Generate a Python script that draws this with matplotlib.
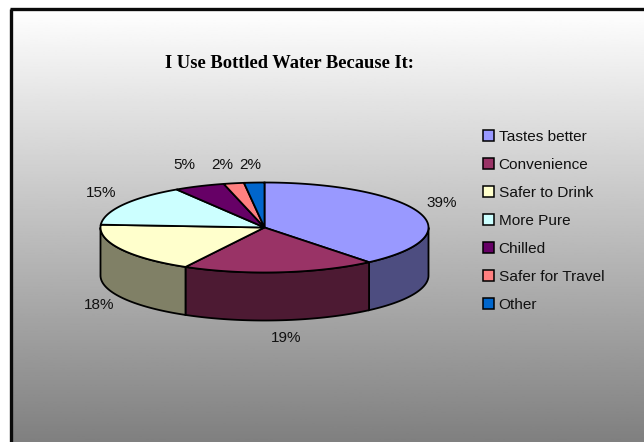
from matplotlib import pyplot as plt
from matplotlib.patches import Patch
import numpy as np

# 数据
categories = ["Tastes better", "Convenience", "Safer to Drink", "More Pure", "Chilled", "Safer for Travel", "Other"]
values = [39, 19, 18, 15, 5, 2, 2]
top_colors = ["#9999FF", "#993366", "#FFFFCC", "#CCFFFF", "#660066", "#FF8080", "#0066CC"]
side_colors = ["#4D4D80", "#4D1A33", "#808066", "#668080", "#330033", "#804040", "#003366"]
label_pos = [(442, 203), (286, 338), (99, 305), (101, 193), (184, 165), (222, 165), (250, 165)]

W, H = 644, 442
cx, cy, rx, ry, depth = 264.5, 227.5, 164, 45, 48

fig = plt.figure(figsize=(W / 100, H / 100), dpi=100, facecolor="white")
ax = fig.add_axes([0, 0, 1, 1])
ax.set_xlim(0, W)
ax.set_ylim(H, 0)
ax.axis("off")

# 背景渐变和黑色边框
grad = np.linspace(1.0, 0.5, 256).reshape(-1, 1)
ax.imshow(grad, cmap="gray", vmin=0, vmax=1, extent=[11, W, H, 9], aspect="auto", zorder=0)
ax.set_xlim(0, W)
ax.set_ylim(H, 0)
ax.plot([11, 11], [H, 9], color="#0a0a0a", lw=2.4, solid_capstyle="butt", zorder=1)
ax.plot([10, W], [9, 9], color="#0a0a0a", lw=2.4, solid_capstyle="butt", zorder=1)


def ell(t, dy=0):
    return cx + rx * np.sin(t), cy - ry * np.cos(t) + dy


edges = np.radians(np.cumsum([0] + values) * 3.6)

# 侧面，只画朝前的部分
for i in range(len(values)):
    a = max(edges[i], np.pi / 2)
    b = min(edges[i + 1], 3 * np.pi / 2)
    if a >= b:
        continue
    t = np.linspace(a, b, 80)
    x1, y1 = ell(t)
    x2, y2 = ell(t[::-1], depth)
    ax.fill(np.r_[x1, x2], np.r_[y1, y2], facecolor=side_colors[i], edgecolor="black", lw=1.3, zorder=2)

# 上面
for i in range(len(values)):
    t = np.linspace(edges[i], edges[i + 1], 80)
    x1, y1 = ell(t)
    ax.fill(np.r_[cx, x1], np.r_[cy, y1], facecolor=top_colors[i], edgecolor="black", lw=1.3, zorder=3)

# 百分比
for v, (px, py) in zip(values, label_pos):
    ax.text(px, py, "{}%".format(v), fontsize=11, family="Liberation Sans", ha="center", va="center", color="#111111", zorder=4)

ax.text(289, 63, "I Use Bottled Water Because It:", fontsize=13.3, family="Liberation Serif", weight="bold",
        ha="center", va="center", color="black", zorder=4)

# 图例
handles = [Patch(facecolor=c, edgecolor="black", lw=1.1) for c in top_colors]
ax.legend(handles, categories, loc="upper left", bbox_to_anchor=(483 / W, 1 - 129.5 / H), frameon=False,
          prop={"family": "Liberation Sans", "size": 11.1}, labelspacing=0.91, handlelength=0.72, handleheight=0.72,
          handletextpad=0.3, borderpad=0, borderaxespad=0, labelcolor="#111111")

plt.savefig("out.png", dpi=100)
